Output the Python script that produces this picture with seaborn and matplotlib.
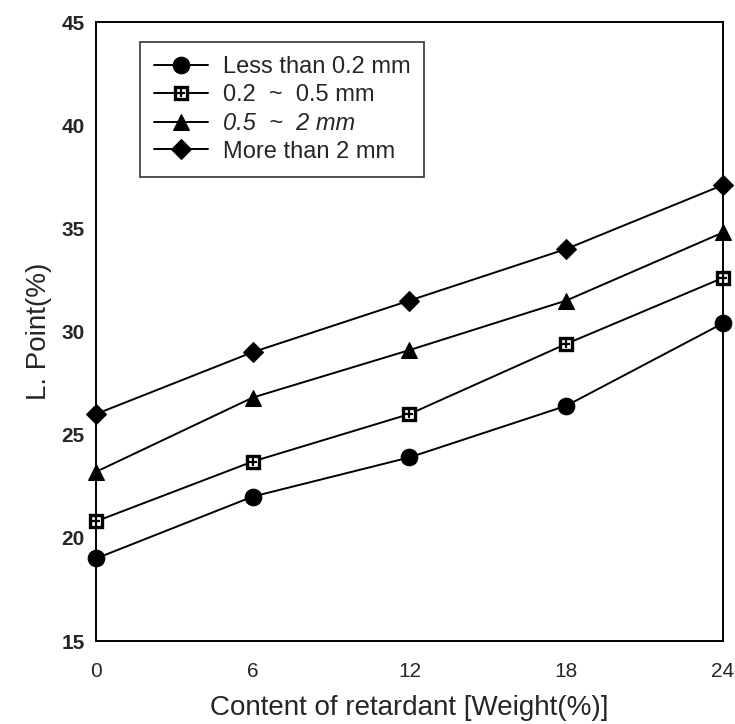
import matplotlib
matplotlib.use("Agg")
import matplotlib.pyplot as plt
from matplotlib.legend_handler import HandlerTuple
import seaborn as sns
import pandas as pd


# data
content = [0, 6, 12, 18, 24]
series_names = ["Less than 0.2 mm", "0.2  ~  0.5 mm", "0.5  ~  2 mm", "More than 2 mm"]
less_02 = [19.0, 22.0, 23.9, 26.4, 30.4]
mid_02_05 = [20.8, 23.7, 26.0, 29.4, 32.6]
mid_05_2 = [23.2, 26.8, 29.1, 31.5, 34.8]
more_2 = [26.0, 29.0, 31.5, 34.0, 37.1]

rows = []
for name, vals in zip(series_names, [less_02, mid_02_05, mid_05_2, more_2]):
    for x, y in zip(content, vals):
        rows.append({"content": x, "lpoint": y, "size": name})
df = pd.DataFrame(rows)


sns.set_style("white")
plt.rcParams["font.family"] = ["Liberation Sans", "DejaVu Sans"]

fig = plt.figure(figsize=(7.35, 7.24), dpi=100)
ax = fig.add_axes([0.1306, 0.1146, 0.853, 0.855])

markers = {series_names[0]: "o", series_names[1]: "s",
           series_names[2]: "^", series_names[3]: "D"}
palette = {n: "black" for n in series_names}

sns.lineplot(data=df, x="content", y="lpoint", hue="size", style="size",
             markers=markers, dashes=False, palette=palette,
             markersize=12, linewidth=1.4, ax=ax, legend=False)

# tweak markers to look like the scanned figure
for line, name in zip(ax.lines, series_names):
    line.set_clip_on(False)
    line.set_markeredgecolor("black")
    if name == series_names[1]:
        line.set_markerfacecolor("white")
        line.set_markeredgewidth(2.4)
        line.set_markersize(9)
    elif name == series_names[3]:
        line.set_markersize(10)
    else:
        line.set_markerfacecolor("black")

# little cross inside the square markers
cross, = ax.plot(content, mid_02_05, linestyle="none", marker="+",
                 markersize=6, markeredgewidth=1.6, color="black",
                 clip_on=False, zorder=5)

handles = list(ax.lines[:4])
handles[1] = (handles[1], cross)
leg = ax.legend(handles, series_names, loc="upper left",
                bbox_to_anchor=(0.07, 0.968), borderaxespad=0,
                fontsize=17, frameon=True, fancybox=False, edgecolor="black",
                handlelength=2.3, handletextpad=0.6, labelspacing=0.25,
                borderpad=0.6, handler_map={tuple: HandlerTuple(ndivide=1)})
leg.get_frame().set_linewidth(1.2)
leg.get_texts()[2].set_style("italic")

ax.set_xlim(0, 24)
ax.set_ylim(15, 45)
ax.set_xticks(content)
ax.set_yticks(range(15, 50, 5))
ax.tick_params(direction="in", length=7, width=1.2, labelsize=15,
               top=False, right=False)
ax.tick_params(axis="x", pad=15)
ax.tick_params(axis="y", pad=8)
for lab in ax.get_yticklabels():
    lab.set_fontweight("bold")

for sp in ax.spines.values():
    sp.set_color("black")
    sp.set_linewidth(1.4)

ax.set_xlabel("Content of retardant [Weight(%)]", fontsize=20, labelpad=10)
ax.set_ylabel("L. Point(%)", fontsize=20, labelpad=7)

fig.savefig("out.png", dpi=100)
